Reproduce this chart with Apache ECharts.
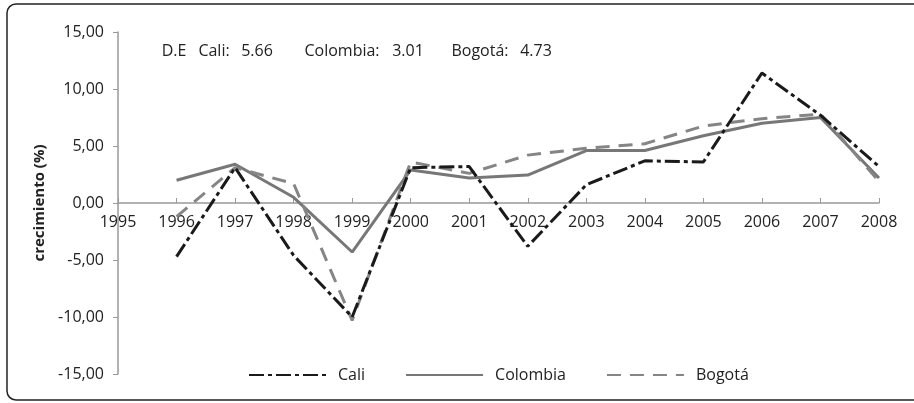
<!DOCTYPE html>
<html><head><meta charset="utf-8">
<script src="https://cdn.jsdelivr.net/npm/echarts@6/dist/echarts.min.js"></script>
<style>html,body{margin:0;padding:0;background:#fff}#c{width:914px;height:403px}</style>
</head><body><div id="c"></div>
<script>
const years = ['1995','1996','1997','1998','1999','2000','2001','2002','2003','2004','2005','2006','2007','2008'];
const cali = ['-', -4.7, 3.1, -4.6, -10.0, 3.1, 3.2, -3.8, 1.6, 3.7, 3.6, 11.4, 7.7, 3.2];
const colombia = ['-', 2.0, 3.4, 0.5, -4.3, 2.9, 2.2, 2.45, 4.6, 4.6, 5.9, 7.0, 7.5, 2.2];
const bogota = ['-', -1.2, 3.1, 1.7, -10.3, 3.6, 2.6, 4.2, 4.8, 5.2, 6.75, 7.4, 7.8, 1.9];
const yTicks = {min: -15, max: 15, interval: 5};
const noteTexts = ['D.E', 'Cali:', '5.66', 'Colombia:', '3.01', 'Bogotá:', '4.73'];
const noteCenters = [174, 214, 257, 342, 408, 480, 536];

const FONT = 'Open Sans';
const chart = echarts.init(document.getElementById('c'), null, {renderer: 'canvas'});
const graphics = [
  {type: 'rect', shape: {x: 7, y: 4, width: 940, height: 396, r: 9}, style: {fill: 'none', stroke: '#222', lineWidth: 1.5}, z: 0}
];
noteTexts.forEach((t, i) => graphics.push({
  type: 'text', x: noteCenters[i], y: 43,
  style: {text: t, font: '16px "Open Sans"', fill: '#222', textAlign: 'center', textVerticalAlign: 'top'}
}));
const option = {
  animation: false,
  textStyle: {fontFamily: FONT},
  grid: {left: 118, right: 35, top: 32, bottom: 29, containLabel: false},
  graphic: graphics,
  legend: {
    bottom: 15, left: 243, itemWidth: 77, itemHeight: 10, itemGap: 40,
    itemStyle: {opacity: 0},
    textStyle: {fontSize: 16, color: '#222', fontFamily: FONT, padding: [0, 0, 0, 7]},
    data: ['Cali', 'Colombia', 'Bogotá']
  },
  xAxis: {
    type: 'category', data: years, boundaryGap: false,
    axisLine: {onZero: false, lineStyle: {color: '#999', width: 1.5}},
    axisTick: {inside: true, length: 5, lineStyle: {color: '#999'}},
    axisLabel: {fontSize: 16, color: '#222', margin: 11, fontFamily: FONT},
    splitLine: {show: false},
    z: 0
  },
  yAxis: {
    type: 'value', min: yTicks.min, max: yTicks.max, interval: yTicks.interval,
    name: 'crecimiento (%)', nameLocation: 'middle', nameGap: 71,
    nameTextStyle: {fontSize: 15, fontWeight: 'bold', color: '#222', fontFamily: FONT},
    axisLine: {show: true, lineStyle: {color: '#999', width: 1.5}},
    axisTick: {show: true, length: 5, lineStyle: {color: '#999'}},
    axisLabel: {fontSize: 16, color: '#222', margin: 14, fontFamily: FONT,
      formatter: v => v.toFixed(2).replace('.', ',')},
    splitLine: {show: false}
  },
  series: [
    {name: 'Cali', type: 'line', data: cali, symbol: 'none', z: 5,
      lineStyle: {color: '#1a1a1a', width: 3, type: [15, 4, 4, 4]}, itemStyle: {color: '#1a1a1a'}},
    {name: 'Colombia', type: 'line', data: colombia, symbol: 'none', z: 4,
      lineStyle: {color: '#777', width: 3, type: 'solid'}, itemStyle: {color: '#777'}},
    {name: 'Bogotá', type: 'line', data: bogota, symbol: 'none', z: 4,
      lineStyle: {color: '#858585', width: 3, type: [14, 9]}, itemStyle: {color: '#858585'}}
  ]
};
chart.setOption(option);
// Place the category axis on the value axis' zero, using the library's own scale
const zeroY = chart.convertToPixel({yAxisIndex: 0}, 0);
const bottomY = chart.convertToPixel({yAxisIndex: 0}, yTicks.min);
chart.setOption({xAxis: {offset: zeroY - bottomY}});
</script></body></html>
